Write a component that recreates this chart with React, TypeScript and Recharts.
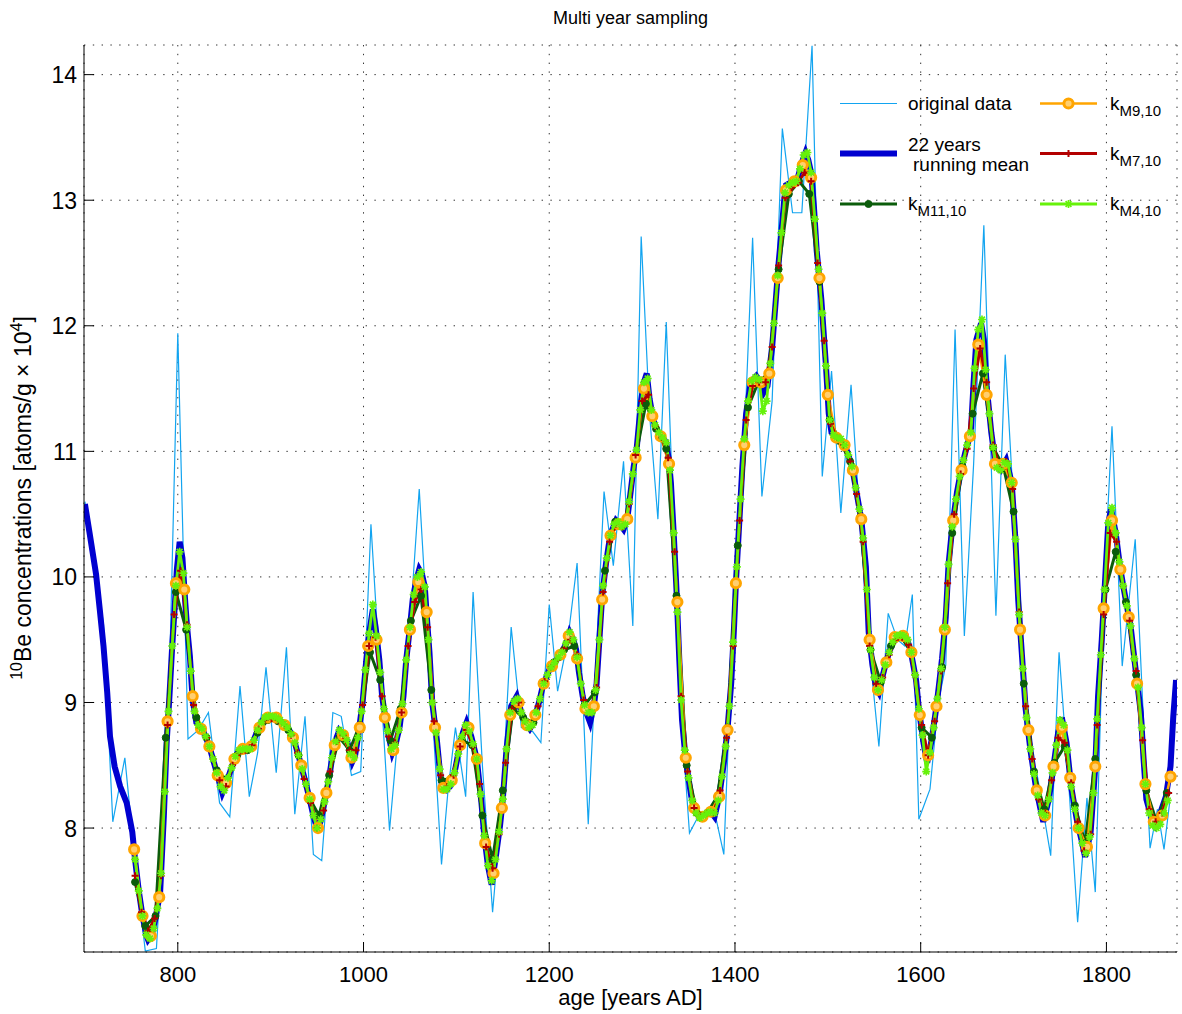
import React from "react";
import { CartesianGrid, Line, LineChart, XAxis, YAxis } from "recharts";

const FONT = '"Liberation Sans", Arial, Helvetica, sans-serif';

const LIGHT_BLUE = "#12a4f0";
const BLUE = "#0000d0";
const DARK_GREEN = "#0b5c0b";
const ORANGE = "#ffa500";
const RED = "#b30000";
const LIME = "#66f20a";

// plot box (page pixels)
const PLOT_LEFT = 84;
const PLOT_BOTTOM = 952;

const xTicks = [800, 1000, 1200, 1400, 1600, 1800];
const yTicks = [8, 9, 10, 11, 12, 13, 14];

// original data: [year AD, 10Be]
const originalData: [number, number][] = [
  [700, 10.6], [710, 10.15], [720, 9.62], [730, 8.05], [743, 8.56], [753, 7.8], [765, 7.02], [777, 7.04],
  [789, 8.6], [800, 11.94], [811, 8.71], [822, 8.78], [833, 8.92], [845, 8.2], [856, 8.09], [867, 9.13],
  [877, 8.25], [886, 8.6], [895, 9.28], [906, 8.44], [917, 9.44], [926, 8.11], [937, 8.89], [946, 7.79],
  [955, 7.74], [967, 8.92], [976, 8.89], [987, 8.42], [997, 8.45], [1008, 10.42], [1018, 9.2], [1028, 7.98],
  [1039, 8.9], [1049, 9.5], [1060, 10.7], [1071, 9.3], [1084, 7.71], [1091, 8.3], [1099, 8.8], [1110, 8.25],
  [1118, 9.88], [1128, 8.5], [1139, 7.33], [1149, 8.2], [1159, 9.6], [1170, 8.8], [1182, 8.77], [1191, 8.68],
  [1200, 9.78], [1209, 9.09], [1220, 9.5], [1230, 10.11], [1242, 8.03], [1259, 10.68], [1269, 10.09], [1280, 10.92],
  [1290, 9.61], [1299, 12.71], [1308, 11.3], [1317, 10.46], [1326, 12.03], [1335, 10.2], [1343, 8.8], [1351, 7.96],
  [1361, 8.1], [1370, 8.12], [1378, 8.13], [1388, 7.79], [1399, 9.85], [1409, 10.9], [1419, 12.7], [1429, 10.64],
  [1440, 11.4], [1451, 13.57], [1462, 12.9], [1472, 12.9], [1483, 14.23], [1494, 10.8], [1504, 11.64], [1514, 10.51],
  [1525, 11.53], [1535, 10.4], [1545, 9.4], [1555, 8.65], [1565, 9.71], [1575, 9.5], [1583, 9.45], [1591, 9.86],
  [1598, 8.07], [1610, 8.31], [1619, 9.0], [1627, 9.3], [1637, 11.97], [1647, 9.53], [1657, 10.9], [1668, 12.8],
  [1681, 9.69], [1691, 11.77], [1702, 10.3], [1713, 8.76], [1726, 8.4], [1740, 7.78], [1749, 9.4], [1759, 8.4],
  [1769, 7.25], [1779, 8.24], [1788, 7.49], [1798, 10.0], [1806, 11.2], [1817, 9.29], [1831, 10.3], [1839, 9.0],
  [1847, 7.84], [1855, 8.15], [1862, 7.83], [1868, 8.2],
];

// 22 years running mean: [year AD, 10Be]
const runningMean: [number, number][] = [
  [700, 10.58], [705, 10.35], [712, 10.02], [716, 9.74], [720, 9.45], [724, 9.08], [727, 8.73], [732, 8.49],
  [738, 8.33], [745, 8.2], [751, 7.97], [754, 7.75], [758, 7.5], [762, 7.3], [766, 7.15], [768, 7.11],
  [772, 7.15], [776, 7.28], [781, 7.49], [785, 8.1], [788, 8.68], [791, 9.05], [794, 9.45], [797, 9.8],
  [799, 10.06], [802, 10.28], [805, 10.15], [808, 9.8], [810, 9.6], [813, 9.37], [816, 9.02], [820, 8.84],
  [827, 8.78], [834, 8.65], [842, 8.44], [848, 8.28], [852, 8.35], [856, 8.44], [862, 8.57], [867, 8.63],
  [872, 8.63], [878, 8.63], [885, 8.76], [891, 8.86], [896, 8.89], [902, 8.89], [908, 8.87], [913, 8.84],
  [919, 8.79], [924, 8.73], [931, 8.55], [937, 8.38], [942, 8.23], [946, 8.1], [951, 7.97], [955, 8.1],
  [960, 8.28], [964, 8.45], [967, 8.6], [971, 8.72], [974, 8.78], [978, 8.75], [982, 8.7], [985, 8.62],
  [988, 8.53], [991, 8.58], [994, 8.72], [999, 9.0], [1003, 9.34], [1006, 9.55], [1010, 9.74], [1013, 9.6],
  [1017, 9.34], [1020, 9.05], [1024, 8.85], [1028, 8.7], [1031, 8.6], [1035, 8.68], [1039, 8.81], [1043, 9.05],
  [1046, 9.34], [1050, 9.6], [1053, 9.82], [1057, 9.98], [1060, 10.06], [1063, 10.02], [1066, 9.92], [1068, 9.7],
  [1071, 9.4], [1074, 9.0], [1077, 8.82], [1079, 8.7], [1082, 8.47], [1085, 8.31], [1089, 8.3], [1093, 8.33],
  [1098, 8.44], [1103, 8.63], [1107, 8.76], [1111, 8.84], [1116, 8.73], [1122, 8.55], [1127, 8.2], [1130, 7.94],
  [1134, 7.7], [1138, 7.55], [1143, 7.8], [1147, 8.02], [1150, 8.23], [1154, 8.63], [1159, 8.97], [1165, 9.05],
  [1170, 8.92], [1175, 8.83], [1179, 8.79], [1183, 8.84], [1186, 8.92], [1190, 9.03], [1193, 9.13], [1200, 9.26],
  [1208, 9.34], [1214, 9.4], [1218, 9.47], [1222, 9.56], [1226, 9.5], [1229, 9.42], [1232, 9.24], [1236, 9.05],
  [1240, 8.92], [1244, 8.84], [1248, 8.97], [1251, 9.15], [1254, 9.5], [1257, 9.85], [1261, 10.1], [1264, 10.25],
  [1267, 10.36], [1272, 10.45], [1276, 10.42], [1280, 10.38], [1284, 10.46], [1288, 10.7], [1291, 10.88], [1294, 11.01],
  [1299, 11.41], [1302, 11.55], [1305, 11.62], [1308, 11.42], [1312, 11.25], [1316, 11.17], [1321, 11.12], [1326, 11.07],
  [1329, 10.92], [1331, 10.75], [1334, 10.35], [1337, 9.9], [1340, 9.35], [1343, 8.86], [1346, 8.62], [1348, 8.49],
  [1353, 8.25], [1358, 8.12], [1363, 8.08], [1370, 8.12], [1374, 8.13], [1378, 8.09], [1383, 8.25], [1388, 8.52],
  [1392, 8.79], [1396, 9.16], [1399, 9.6], [1401, 9.95], [1404, 10.35], [1408, 10.88], [1412, 11.3], [1417, 11.55],
  [1423, 11.6], [1428, 11.55], [1431, 11.47], [1435, 11.52], [1440, 11.83], [1444, 12.21], [1447, 12.5], [1450, 12.74],
  [1453, 13.0], [1455, 13.12], [1460, 13.14], [1464, 13.15], [1467, 13.16], [1472, 13.3], [1476, 13.38], [1479, 13.32],
  [1482, 13.22], [1485, 12.95], [1488, 12.6], [1493, 12.21], [1498, 11.68], [1501, 11.3], [1504, 11.15], [1508, 11.12],
  [1512, 11.11], [1519, 11.04], [1526, 10.88], [1531, 10.67], [1536, 10.46], [1541, 10.08], [1544, 9.56], [1548, 9.3],
  [1552, 9.12], [1555, 9.08], [1558, 9.18], [1562, 9.3], [1566, 9.4], [1573, 9.53], [1579, 9.54], [1584, 9.53],
  [1589, 9.42], [1595, 9.18], [1598, 8.95], [1603, 8.68], [1607, 8.52], [1612, 8.71], [1617, 8.97], [1623, 9.35],
  [1627, 9.68], [1630, 10.1], [1634, 10.4], [1639, 10.67], [1643, 10.83], [1648, 10.99], [1654, 11.15], [1657, 11.55],
  [1660, 11.89], [1665, 12.02], [1668, 11.89], [1671, 11.52], [1676, 11.15], [1681, 10.88], [1686, 10.85], [1692, 10.93],
  [1698, 10.75], [1702, 10.3], [1705, 9.82], [1709, 9.38], [1713, 8.95], [1718, 8.63], [1724, 8.33], [1729, 8.15],
  [1732, 8.05], [1738, 8.23], [1743, 8.49], [1748, 8.76], [1752, 8.88], [1757, 8.68], [1762, 8.33], [1768, 8.07],
  [1773, 7.91], [1777, 7.77], [1783, 7.97], [1788, 8.49], [1791, 9.05], [1795, 9.5], [1799, 10.03], [1802, 10.43],
  [1805, 10.54], [1810, 10.35], [1815, 10.06], [1820, 9.85], [1826, 9.61], [1831, 9.29], [1837, 8.92], [1840, 8.55],
  [1843, 8.23], [1849, 8.07], [1853, 8.02], [1858, 8.12], [1864, 8.25], [1869, 8.49], [1872, 8.89], [1875, 9.18],
];

// k_M11,10 : one value every 11 years from 754
const kM11Start = 754;
const kM11Step = 11;
const kM11 = [
  7.57, 7.22, 7.3, 8.72, 9.88, 9.58, 8.88, 8.72, 8.46, 8.38,
  8.58, 8.62, 8.76, 8.86, 8.85, 8.78, 8.58, 8.25, 8.1, 8.42,
  8.72, 8.62, 8.82, 9.4, 9.18, 8.7, 8.95, 9.65, 9.85, 9.1,
  8.38, 8.4, 8.7, 8.66, 8.1, 7.75, 8.3, 8.95, 8.88, 8.84,
  9.15, 9.32, 9.42, 9.45, 8.98, 9.08, 10.05, 10.44, 10.45, 10.95,
  11.38, 11.18, 11.02, 9.85, 8.5, 8.12, 8.12, 8.25, 8.8, 10.25,
  11.35, 11.55, 11.62, 12.45, 13.05, 13.15, 13.05, 12.35, 11.25, 11.08,
  10.92, 10.48, 9.42, 9.16, 9.45, 9.52, 9.4, 8.8, 8.72, 9.28,
  10.35, 10.88, 11.3, 11.62, 11.03, 10.88, 10.52, 9.15, 8.45, 8.15,
  8.52, 8.65, 8.18, 7.88, 8.55, 9.9, 10.2, 9.8, 9.22, 8.3,
  8.05, 8.28,
];

// k_M9,10 : one value every 9 years from 753
const kM9Start = 753;
const kM9Step = 9;
const kM9 = [
  7.83, 7.3, 7.14, 7.45, 8.85, 9.95, 9.9, 9.05, 8.79, 8.65,
  8.42, 8.36, 8.55, 8.63, 8.65, 8.8, 8.88, 8.88, 8.82, 8.72,
  8.5, 8.24, 8.0, 8.28, 8.66, 8.74, 8.56, 8.8, 9.45, 9.5,
  8.88, 8.62, 8.92, 9.58, 9.96, 9.72, 8.8, 8.32, 8.38, 8.66,
  8.8, 8.55, 7.88, 7.64, 8.16, 8.9, 9.0, 8.82, 8.9, 9.15,
  9.29, 9.38, 9.53, 9.35, 8.95, 8.97, 9.82, 10.33, 10.42, 10.46,
  10.95, 11.5, 11.28, 11.12, 10.9, 9.8, 8.56, 8.16, 8.09, 8.13,
  8.25, 8.78, 9.95, 11.05, 11.55, 11.55, 11.62, 12.38, 13.08, 13.15,
  13.28, 13.18, 12.38, 11.45, 11.11, 11.05, 10.85, 10.46, 9.5, 9.1,
  9.32, 9.52, 9.53, 9.4, 8.9, 8.58, 8.97, 9.58, 10.45, 10.85,
  11.12, 11.85, 11.45, 10.9, 10.9, 10.75, 9.58, 8.78, 8.3, 8.1,
  8.49, 8.8, 8.4, 8.0, 7.85, 8.49, 9.75, 10.45, 10.06, 9.68,
  9.15, 8.35, 8.05, 8.1, 8.41,
];

// k_M7,10 : one value every 7 years from 754
const kM7Start = 754;
const kM7Step = 7;
const kM7 = [
  7.62, 7.33, 7.18, 7.28, 7.62, 8.82, 9.7, 10.05, 9.62, 8.98,
  8.8, 8.72, 8.55, 8.38, 8.33, 8.5, 8.6, 8.62, 8.66, 8.79,
  8.86, 8.87, 8.86, 8.82, 8.74, 8.6, 8.39, 8.2, 8.0, 8.14,
  8.45, 8.69, 8.74, 8.62, 8.62, 8.98, 9.45, 9.52, 9.05, 8.73,
  8.68, 8.92, 9.45, 9.8, 9.9, 9.6, 8.85, 8.42, 8.33, 8.42,
  8.65, 8.78, 8.65, 8.35, 7.85, 7.68, 7.95, 8.52, 8.95, 9.0,
  8.85, 8.81, 8.97, 9.17, 9.28, 9.34, 9.43, 9.5, 9.38, 9.02,
  8.92, 9.12, 9.88, 10.28, 10.42, 10.4, 10.58, 10.97, 11.4, 11.45,
  11.2, 11.11, 10.95, 10.2, 9.05, 8.45, 8.16, 8.1, 8.12, 8.12,
  8.3, 8.72, 9.45, 10.45, 11.25, 11.52, 11.55, 11.55, 11.83, 12.48,
  13.02, 13.1, 13.14, 13.22, 13.15, 12.5, 11.88, 11.22, 11.11, 11.05,
  10.92, 10.66, 10.28, 9.45, 9.15, 9.2, 9.38, 9.5, 9.52, 9.46,
  9.22, 8.82, 8.58, 8.85, 9.25, 9.95, 10.5, 10.82, 11.02, 11.5,
  11.82, 11.55, 11.05, 10.87, 10.92, 10.7, 9.72, 8.97, 8.55, 8.23,
  8.12, 8.38, 8.72, 8.68, 8.36, 8.05, 7.82, 7.95, 8.82, 9.7,
  10.35, 10.28, 9.93, 9.65, 9.25, 8.7, 8.15, 8.05, 8.12, 8.28,
];

// k_M4,10 : one value every 4 years from 754
const kM4Start = 754;
const kM4Step = 4;
const kM4 = [
  7.75, 7.5, 7.3, 7.15, 7.12, 7.2, 7.36, 7.64, 8.29, 8.93,
  9.45, 9.93, 10.2, 10.03, 9.6, 9.25, 8.93, 8.82, 8.79, 8.73,
  8.65, 8.55, 8.44, 8.33, 8.3, 8.4, 8.48, 8.57, 8.62, 8.63,
  8.63, 8.63, 8.7, 8.78, 8.84, 8.88, 8.89, 8.89, 8.88, 8.86,
  8.83, 8.8, 8.75, 8.68, 8.58, 8.47, 8.35, 8.23, 8.1, 8.0,
  8.07, 8.21, 8.37, 8.56, 8.69, 8.78, 8.75, 8.7, 8.59, 8.56,
  8.72, 8.93, 9.26, 9.55, 9.78, 9.53, 9.24, 8.95, 8.77, 8.63,
  8.66, 8.78, 8.99, 9.34, 9.6, 9.86, 10.0, 10.04, 9.92, 9.5,
  9.0, 8.76, 8.47, 8.31, 8.31, 8.35, 8.44, 8.59, 8.73, 8.82,
  8.77, 8.67, 8.55, 8.27, 7.94, 7.7, 7.58, 7.75, 7.97, 8.23,
  8.63, 8.92, 9.01, 9.03, 8.92, 8.85, 8.8, 8.82, 8.92, 9.03,
  9.15, 9.22, 9.28, 9.32, 9.36, 9.4, 9.47, 9.56, 9.5, 9.36,
  9.15, 8.98, 8.92, 8.92, 9.1, 9.5, 9.93, 10.15, 10.33, 10.42,
  10.44, 10.4, 10.42, 10.6, 10.82, 11.01, 11.33, 11.55, 11.58, 11.33,
  11.21, 11.15, 11.11, 11.07, 10.85, 10.35, 9.72, 9.02, 8.62, 8.4,
  8.22, 8.12, 8.08, 8.1, 8.12, 8.13, 8.12, 8.22, 8.41, 8.65,
  8.97, 9.48, 10.08, 10.62, 11.1, 11.4, 11.56, 11.59, 11.57, 11.32,
  11.4, 11.7, 12.02, 12.4, 12.74, 13.06, 13.12, 13.14, 13.15, 13.25,
  13.36, 13.38, 13.22, 12.85, 12.45, 12.1, 11.68, 11.25, 11.13, 11.11,
  11.1, 11.05, 10.97, 10.88, 10.71, 10.54, 10.31, 9.9, 9.42, 9.2,
  9.1, 9.18, 9.3, 9.4, 9.48, 9.53, 9.54, 9.53, 9.5, 9.4,
  9.22, 8.95, 8.74, 8.45, 8.6, 8.8, 9.03, 9.27, 9.6, 10.1,
  10.4, 10.62, 10.8, 10.93, 11.05, 11.15, 11.66, 11.97, 12.05, 11.65,
  11.3, 11.03, 10.87, 10.85, 10.91, 10.9, 10.75, 10.3, 9.7, 9.27,
  8.88, 8.63, 8.43, 8.26, 8.12, 8.1, 8.23, 8.44, 8.66, 8.86,
  8.82, 8.62, 8.33, 8.15, 8.0, 7.88, 7.8, 7.93, 8.28, 8.87,
  9.38, 9.9, 10.43, 10.55, 10.35, 10.12, 9.93, 9.77, 9.61, 9.35,
  9.12, 8.8, 8.35, 8.12, 8.02, 8.0, 8.03, 8.12, 8.22,
];

const pairsToPoints = (pairs: [number, number][]) => pairs.map(([x, v]) => ({ x, v }));
const sampledPoints = (start: number, step: number, vals: number[]) =>
  vals.map((v, i) => ({ x: start + i * step, v }));

type DotProps = { cx?: number; cy?: number; index?: number };

function greenDot(cx: number, cy: number, key?: string) {
  return <circle key={key} cx={cx} cy={cy} r={3.5} fill={DARK_GREEN} stroke={DARK_GREEN} />;
}
function ringDot(cx: number, cy: number, key?: string) {
  return <circle key={key} cx={cx} cy={cy} r={4.6} fill="#ffcf70" stroke={ORANGE} strokeWidth={3} />;
}
function plusDot(cx: number, cy: number, key?: string) {
  const s = 3.5;
  return (
    <path key={key} d={`M${cx - s},${cy}H${cx + s}M${cx},${cy - s}V${cy + s}`} stroke={RED} strokeWidth={2} fill="none" />
  );
}
function starDot(cx: number, cy: number, key?: string) {
  const s = 4;
  const d = 2.9;
  return (
    <path
      key={key}
      d={`M${cx - s},${cy}H${cx + s}M${cx},${cy - s}V${cy + s}M${cx - d},${cy - d}L${cx + d},${cy + d}M${cx - d},${cy + d}L${cx + d},${cy - d}`}
      stroke={LIME}
      strokeWidth={1.7}
      fill="none"
    />
  );
}

// wraps a marker for recharts' dot prop
const asDot = (draw: (cx: number, cy: number, key?: string) => React.ReactElement, name: string) =>
  (p: DotProps) => {
    const key = `${name}-${p.index}`;
    if (p.cx == null || p.cy == null) return <g key={key} />;
    return draw(p.cx, p.cy, key);
  };

const XTick = (props: any) => {
  const { x, payload } = props;
  return (
    <g>
      <line x1={x} x2={x} y1={PLOT_BOTTOM} y2={PLOT_BOTTOM - 10} stroke="#000" />
      <text x={x} y={982} textAnchor="middle" fontSize={22} fontFamily={FONT} fill="#000">
        {payload.value}
      </text>
    </g>
  );
};

const YTick = (props: any) => {
  const { y, payload } = props;
  return (
    <g>
      <line x1={PLOT_LEFT} x2={PLOT_LEFT + 10} y1={y} y2={y} stroke="#000" />
      <text x={77} y={y + 8.5} textAnchor="end" fontSize={23} fontFamily={FONT} fill="#000">
        {payload.value}
      </text>
    </g>
  );
};

function LegendItem(props: {
  x: number;
  y: number;
  color: string;
  width: number;
  marker?: (cx: number, cy: number) => React.ReactElement;
  children: React.ReactNode;
}) {
  const { x, y, color, width, marker, children } = props;
  return (
    <g>
      <line x1={x} x2={x + 57} y1={y} y2={y} stroke={color} strokeWidth={width} />
      {marker ? marker(x + 28.5, y) : null}
      {children}
    </g>
  );
}

function KLabel({ x, y, sub }: { x: number; y: number; sub: string }) {
  return (
    <text x={x} y={y + 6} fontSize={19} fontFamily={FONT} fill="#000">
      k
      <tspan fontSize={15} dy={6}>
        {sub}
      </tspan>
    </text>
  );
}

export default function App() {
  const orig = pairsToPoints(originalData);
  const mean = pairsToPoints(runningMean);
  const m11 = sampledPoints(kM11Start, kM11Step, kM11);
  const m9 = sampledPoints(kM9Start, kM9Step, kM9);
  const m7 = sampledPoints(kM7Start, kM7Step, kM7);
  const m4 = sampledPoints(kM4Start, kM4Step, kM4);

  return (
    <div
      style={{
        position: "absolute",
        left: 0,
        top: 0,
        width: 1182,
        height: 1014,
        background: "#fff",
        overflow: "hidden",
        fontFamily: FONT,
      }}
    >
      <LineChart width={1182} height={1014} margin={{ top: 45, right: 5, bottom: 22, left: 24 }}>
        <CartesianGrid stroke="#333" strokeDasharray="1.4 7.4" />
        <XAxis
          dataKey="x"
          type="number"
          domain={[699, 1876]}
          ticks={xTicks}
          interval={0}
          allowDataOverflow
          height={40}
          tickLine={false}
          axisLine={{ stroke: "#000" }}
          tick={(p: any) => <XTick {...p} />}
        />
        <YAxis
          type="number"
          domain={[7.013, 14.236]}
          ticks={yTicks}
          interval={0}
          allowDataOverflow
          width={60}
          tickLine={false}
          axisLine={{ stroke: "#000" }}
          tick={(p: any) => <YTick {...p} />}
        />
        <Line data={orig} dataKey="v" type="linear" stroke={LIGHT_BLUE} strokeWidth={1.2} dot={false} isAnimationActive={false} />
        <Line data={mean} dataKey="v" type="linear" stroke={BLUE} strokeWidth={6} dot={false} isAnimationActive={false} />
        <Line data={m11} dataKey="v" type="linear" stroke={DARK_GREEN} strokeWidth={3} dot={asDot(greenDot, "m11")} isAnimationActive={false} />
        <Line data={m9} dataKey="v" type="linear" stroke={ORANGE} strokeWidth={2.5} dot={asDot(ringDot, "m9")} isAnimationActive={false} />
        <Line data={m7} dataKey="v" type="linear" stroke={RED} strokeWidth={2.8} dot={asDot(plusDot, "m7")} isAnimationActive={false} />
        <Line data={m4} dataKey="v" type="linear" stroke={LIME} strokeWidth={2.8} dot={asDot(starDot, "m4")} isAnimationActive={false} />
      </LineChart>

      <svg
        width={1182}
        height={1014}
        style={{ position: "absolute", left: 0, top: 0, pointerEvents: "none" }}
      >
        <text x={630.5} y={24} textAnchor="middle" fontSize={18} fontFamily={FONT} fill="#000">
          Multi year sampling
        </text>
        <text x={630.5} y={1005} textAnchor="middle" fontSize={22} fontFamily={FONT} fill="#000">
          age [years AD]
        </text>
        <text transform="translate(31,498) rotate(-90)" textAnchor="middle" fontSize={23} fontFamily={FONT} fill="#000">
          <tspan fontSize={16} dy={-9}>10</tspan>
          <tspan dy={9}>Be concentrations [atoms/g × 10</tspan>
          <tspan fontSize={16} dy={-9}>4</tspan>
          <tspan dy={9}>]</tspan>
        </text>

        <LegendItem x={840} y={103.5} color={LIGHT_BLUE} width={1.2}>
          <text x={908} y={110} fontSize={19} fontFamily={FONT} fill="#000">original data</text>
        </LegendItem>
        <LegendItem x={840} y={153.5} color={BLUE} width={6}>
          <text x={908} y={151} fontSize={19} fontFamily={FONT} fill="#000">22 years</text>
          <text x={913} y={171} fontSize={19} fontFamily={FONT} fill="#000">running mean</text>
        </LegendItem>
        <LegendItem x={840} y={204} color={DARK_GREEN} width={3} marker={(cx, cy) => greenDot(cx, cy)}>
          <KLabel x={908} y={204} sub="M11,10" />
        </LegendItem>
        <LegendItem x={1040} y={103.5} color={ORANGE} width={2.5} marker={(cx, cy) => ringDot(cx, cy)}>
          <KLabel x={1110} y={103.5} sub="M9,10" />
        </LegendItem>
        <LegendItem x={1040} y={153.5} color={RED} width={2.8} marker={(cx, cy) => plusDot(cx, cy)}>
          <KLabel x={1110} y={153.5} sub="M7,10" />
        </LegendItem>
        <LegendItem x={1040} y={204} color={LIME} width={2.8} marker={(cx, cy) => starDot(cx, cy)}>
          <KLabel x={1110} y={204} sub="M4,10" />
        </LegendItem>
      </svg>
    </div>
  );
}
